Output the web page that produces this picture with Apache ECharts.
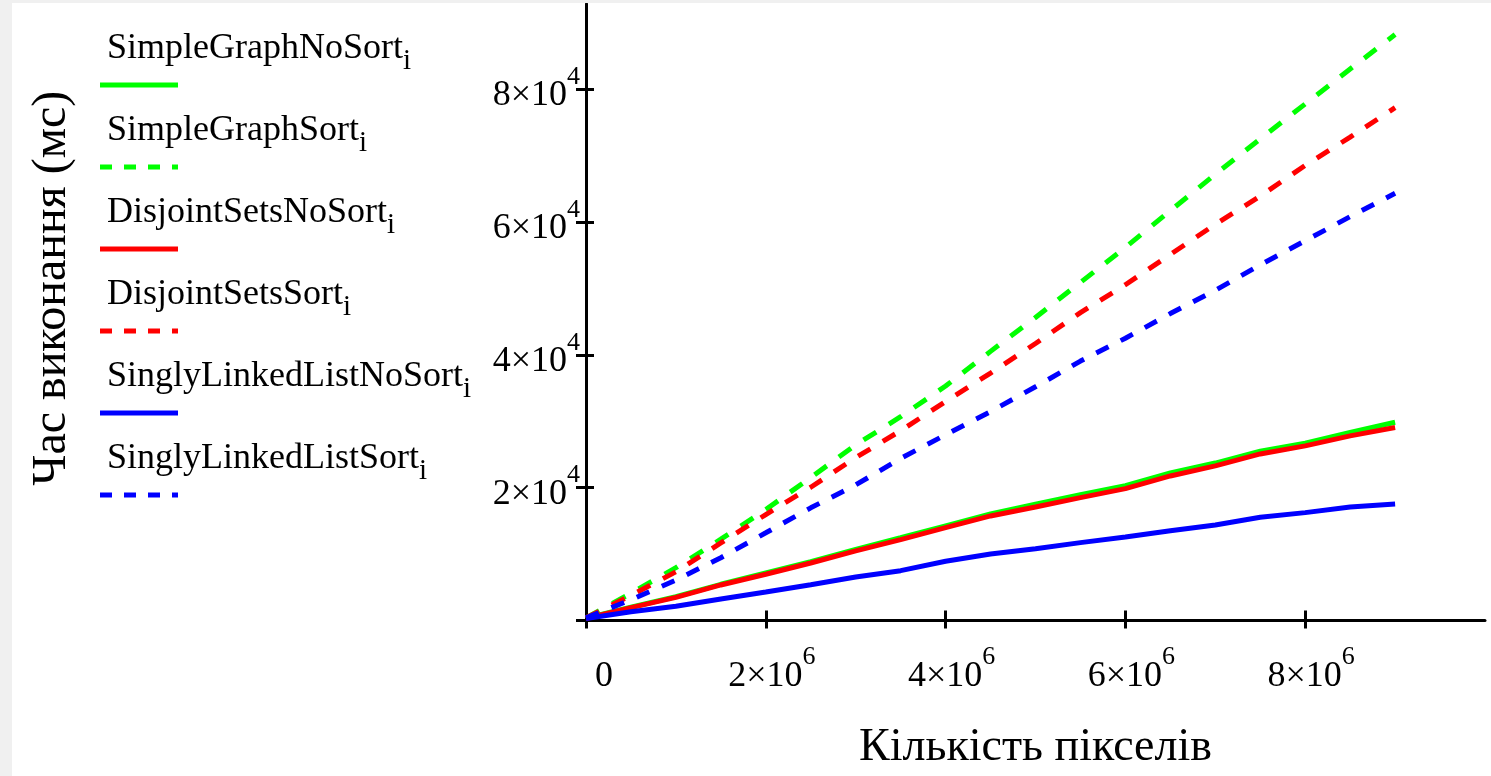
<!DOCTYPE html>
<html>
<head>
<meta charset="utf-8">
<script src="https://cdn.jsdelivr.net/npm/echarts@6/dist/echarts.min.js"></script>
<style>
  html, body { margin: 0; padding: 0; background: #f0f0f0; }
  #chart { position: absolute; left: 12px; top: 3px; width: 1479px; height: 773px; background: #fff; }
</style>
</head>
<body>
<div id="chart"></div>
<script>
// кількість пікселів (x)
var pixels = [0, 500000, 1000000, 1500000, 2000000, 2500000, 3000000, 3500000, 4000000, 4500000,
  5000000, 5500000, 6000000, 6500000, 7000000, 7500000, 8000000, 8500000, 9000000];

// час виконання, мс
var simpleGraphNoSort = [350, 2000, 3600, 5450, 7150, 8850, 10700, 12450, 14250, 16050,
  17500, 18950, 20300, 22200, 23700, 25500, 26700, 28300, 29850];
var simpleGraphSort = [400, 4100, 7950, 12240, 16700, 21530, 26430, 30680, 35300, 40510,
  45620, 50890, 56160, 61700, 67160, 72500, 77750, 83010, 88200];
var disjointSetsNoSort = [300, 1930, 3490, 5350, 6960, 8660, 10470, 12170, 13980, 15740,
  17090, 18500, 19850, 21760, 23270, 25070, 26280, 27790, 29040];
var disjointSetsSort = [400, 3770, 7330, 11670, 15950, 20060, 24520, 28570, 32970, 37240,
  41700, 46340, 50540, 55100, 59640, 63880, 68500, 72760, 77200];
var singlyLinkedListNoSort = [300, 1330, 2140, 3240, 4290, 5390, 6550, 7500, 8910, 10010,
  10810, 11720, 12570, 13520, 14380, 15540, 16240, 17090, 17540];
var singlyLinkedListSort = [400, 3120, 6090, 9450, 13200, 16960, 20410, 24400, 27960, 31440,
  35180, 39050, 42490, 46200, 49700, 53540, 57160, 60800, 64300];

var xTicks = [0, 2000000, 4000000, 6000000, 8000000];
var yTicks = [0, 20000, 40000, 60000, 80000];
var yLabels = [20000, 40000, 60000, 80000];

var names = ['SimpleGraphNoSort', 'SimpleGraphSort', 'DisjointSetsNoSort',
  'DisjointSetsSort', 'SinglyLinkedListNoSort', 'SinglyLinkedListSort'];
var values = [simpleGraphNoSort, simpleGraphSort, disjointSetsNoSort,
  disjointSetsSort, singlyLinkedListNoSort, singlyLinkedListSort];
var colors = ['#00ff00', '#00ff00', '#ff0000', '#ff0000', '#0000ff', '#0000ff'];
var dashed = [false, true, false, true, false, true];
var dashLen = [0, 15, 0, 14.4, 0, 13.7];

var serif = 'Liberation Serif';

var series = names.map(function (n, k) {
  return {
    name: n,
    type: 'line',
    showSymbol: false,
    silent: true,
    data: pixels.map(function (x, i) { return [x, values[k][i]]; }),
    lineStyle: {
      color: colors[k],
      width: 5,
      type: dashed[k] ? [dashLen[k], dashLen[k]] : 'solid'
    }
  };
});

// легенда як у Mathcad: назва з індексом, під нею зразок лінії
var legendItems = [];
names.forEach(function (n, k) {
  var ly = 82 + 82 * k;
  legendItems.push({
    type: 'text',
    left: 95,
    top: ly - 54,
    style: {
      text: '{n|' + n + '}{s|i}',
      rich: {
        n: { fontSize: 36, fontFamily: serif, padding: [0, 0, 9, 0], verticalAlign: 'top', fill: '#000' },
        s: { fontSize: 29, fontFamily: serif, verticalAlign: 'bottom', fill: '#000' }
      }
    }
  });
  legendItems.push({
    type: 'line',
    shape: { x1: 88, y1: ly, x2: 166, y2: ly },
    style: { stroke: colors[k], lineWidth: 5, lineDash: dashed[k] ? [12, 12] : null }
  });
});

var axisLineStyle = { color: '#000', width: 3 };
var labelRich = {
  m: { fontSize: 36, fontFamily: serif, padding: [14, 0, 0, 0], verticalAlign: 'bottom', color: '#000' },
  s: { fontSize: 26, fontFamily: serif, verticalAlign: 'top', color: '#000' },
  z: { fontSize: 36, fontFamily: serif, padding: [14, 0, 0, 24], verticalAlign: 'bottom', color: '#000' }
};

var chart = echarts.init(document.getElementById('chart'));
chart.setOption({
  animation: false,
  backgroundColor: '#fff',
  grid: { left: 574, right: 6, top: 1, bottom: 155.5, containLabel: false },
  xAxis: [{
    type: 'value', min: 0, max: 10000000, interval: 2000000, position: 'bottom',
    axisLine: { show: true, onZero: false, lineStyle: axisLineStyle },
    axisTick: { show: true, length: 8, lineStyle: axisLineStyle, customValues: xTicks },
    axisLabel: {
      customValues: xTicks, margin: 24, padding: [0, 0, 0, 12], rich: labelRich,
      formatter: function (v) {
        return v === 0 ? '{z|0}' : '{m|' + (v / 1e6) + '×10}{s|6}';
      }
    },
    splitLine: { show: false },
    name: 'Кількість пікселів', nameLocation: 'middle', nameGap: 104,
    nameTextStyle: { fontFamily: serif, fontSize: 46, color: '#000' }
  }, {
    type: 'value', min: 0, max: 10000000, interval: 2000000, position: 'bottom',
    axisLine: { show: false },
    axisTick: { show: true, inside: true, length: 10, lineStyle: axisLineStyle, customValues: xTicks },
    axisLabel: { show: false },
    splitLine: { show: false }
  }],
  yAxis: [{
    type: 'value', min: 0, max: 92800, interval: 20000, position: 'left',
    axisLine: { show: true, onZero: false, lineStyle: axisLineStyle },
    axisTick: { show: true, length: 10, lineStyle: axisLineStyle, customValues: yTicks },
    axisLabel: {
      customValues: yLabels, margin: 6, rich: labelRich,
      formatter: function (v) { return '{m|' + (v / 1e4) + '×10}{s|4}'; }
    },
    splitLine: { show: false },
    name: 'Час виконання (мс)', nameLocation: 'middle', nameGap: 510,
    nameTextStyle: { fontFamily: serif, fontSize: 48, color: '#000', padding: [0, 0, 0, 48] }
  }, {
    type: 'value', min: 0, max: 92800, interval: 20000, position: 'left',
    axisLine: { show: false },
    axisTick: { show: true, inside: true, length: 8, lineStyle: axisLineStyle, customValues: yTicks },
    axisLabel: { show: false },
    splitLine: { show: false }
  }],
  graphic: legendItems,
  series: series
});
</script>
</body>
</html>
